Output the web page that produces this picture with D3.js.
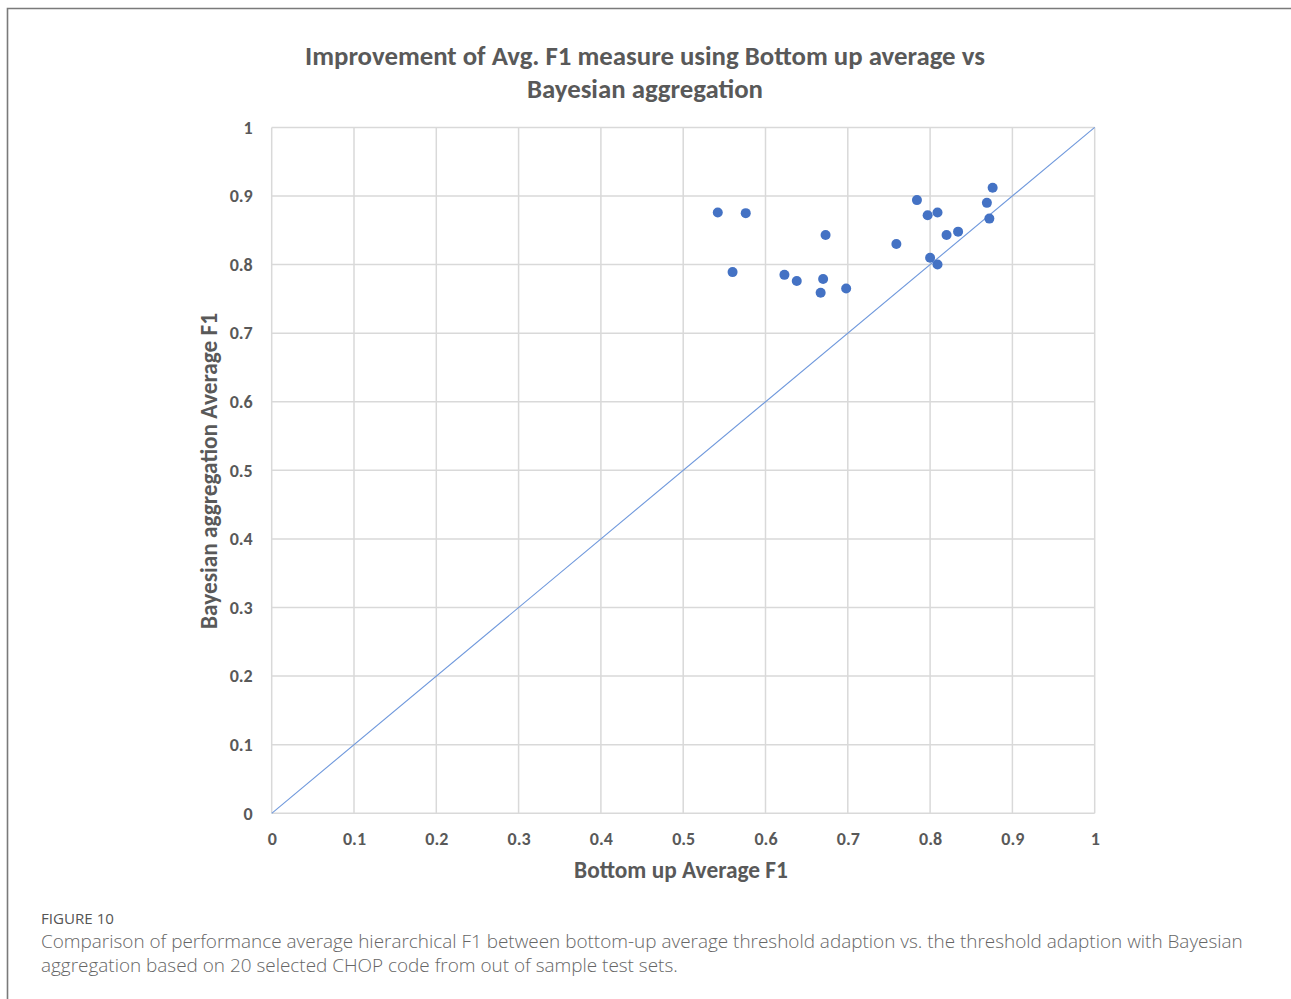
<!DOCTYPE html>
<html>
<head>
<meta charset="utf-8">
<script src="https://cdn.jsdelivr.net/npm/d3@7"></script>
<style>
  html, body { margin: 0; padding: 0; background: #fff; }
  svg { display: block; }
</style>
</head>
<body>
<svg id="chart" width="1291" height="999"></svg>
<script>
// ---- Data ----
const titleLines = ["Improvement of Avg. F1 measure using Bottom up average vs", "Bayesian aggregation"];
const xLabel = "Bottom up Average F1";
const yLabel = "Bayesian aggregation Average F1";
const tickValues = [0, 0.1, 0.2, 0.3, 0.4, 0.5, 0.6, 0.7, 0.8, 0.9, 1];
const tickLabels = ["0", "0.1", "0.2", "0.3", "0.4", "0.5", "0.6", "0.7", "0.8", "0.9", "1"];
const bottomUpF1 = [0.542, 0.576, 0.560, 0.673, 0.623, 0.638, 0.670, 0.667, 0.698, 0.759,
                    0.784, 0.797, 0.809, 0.820, 0.834, 0.800, 0.809, 0.869, 0.872, 0.876];
const bayesianF1 = [0.876, 0.875, 0.789, 0.843, 0.785, 0.776, 0.779, 0.759, 0.765, 0.830,
                    0.894, 0.872, 0.876, 0.843, 0.848, 0.810, 0.800, 0.890, 0.867, 0.912];
const diagonal = [[0, 0], [1, 1]];
const figureLabel = "FIGURE 10";
const captionLines = [
  "Comparison of performance average hierarchical F1 between bottom-up average threshold adaption vs. the threshold adaption with Bayesian",
  "aggregation based on 20 selected CHOP code from out of sample test sets."
];

// ---- Layout ----
const svg = d3.select("#chart");
const W = 1291, H = 999;
const plot = { left: 271.7, right: 1094.7, top: 127.4, bottom: 813.3 };
const chartFont = "Carlito, Calibri, Lato, 'Open Sans', sans-serif";
const textColor = "#595959";

// outer frame
svg.append("path")
  .attr("d", `M7.5,${H + 5} L7.5,8.5 L${W + 5},8.5`)
  .attr("fill", "none").attr("stroke", "#7a7a7a").attr("stroke-width", 1.6);

const x = d3.scaleLinear().domain([0, 1]).range([plot.left, plot.right]);
const y = d3.scaleLinear().domain([0, 1]).range([plot.bottom, plot.top]);

// grid lines
const grid = svg.append("g");
grid.selectAll("line.v").data(tickValues).join("line")
  .attr("x1", d => x(d)).attr("x2", d => x(d))
  .attr("y1", y(0)).attr("y2", y(1))
  .attr("stroke", "#d9d9d9").attr("stroke-width", 1.5);
grid.selectAll("line.h").data(tickValues).join("line")
  .attr("y1", d => y(d)).attr("y2", d => y(d))
  .attr("x1", x(0)).attr("x2", x(1))
  .attr("stroke", "#d9d9d9").attr("stroke-width", 1.5);

// axes (labels only)
const xAxis = d3.axisBottom(x).tickValues(tickValues).tickFormat((d, i) => tickLabels[i]).tickSize(0).tickPadding(19);
const yAxis = d3.axisLeft(y).tickValues(tickValues).tickFormat((d, i) => tickLabels[i]).tickSize(0).tickPadding(19);
const gx = svg.append("g").attr("transform", `translate(0,${plot.bottom})`).call(xAxis);
const gy = svg.append("g").attr("transform", `translate(${plot.left},0)`).call(yAxis);
[gx, gy].forEach(g => {
  g.select(".domain").remove();
  g.selectAll("text")
    .attr("font-family", chartFont).attr("font-size", 18).attr("font-weight", "bold")
    .attr("fill", textColor);
});
gy.selectAll("text").attr("dy", "0.32em");

// diagonal line
svg.append("path")
  .datum(diagonal)
  .attr("d", d3.line().x(d => x(d[0])).y(d => y(d[1])))
  .attr("fill", "none").attr("stroke", "#6f98dc").attr("stroke-width", 1.1);

// points
svg.append("g").selectAll("circle")
  .data(bottomUpF1.map((v, i) => [v, bayesianF1[i]]))
  .join("circle")
  .attr("cx", d => x(d[0])).attr("cy", d => y(d[1]))
  .attr("r", 5).attr("fill", "#4472c4");

// helper to fit text width
function fit(sel, target) {
  const w = sel.node().getComputedTextLength();
  const fs = parseFloat(sel.attr("font-size"));
  sel.attr("font-size", (fs * target / w).toFixed(2));
}

// title
const titleEls = titleLines.map((t, i) => svg.append("text")
    .attr("x", 645).attr("y", 65 + i * 33)
    .attr("text-anchor", "middle")
    .attr("font-family", chartFont).attr("font-weight", "bold").attr("font-size", 24)
    .attr("fill", textColor).text(t));
fit(titleEls[0], 680);
titleEls[1].attr("font-size", titleEls[0].attr("font-size"));

// axis titles
const xl = svg.append("text")
  .attr("x", 681).attr("y", 878).attr("text-anchor", "middle")
  .attr("font-family", chartFont).attr("font-weight", "bold").attr("font-size", 20)
  .attr("fill", textColor).text(xLabel);
fit(xl, 214);
const yl = svg.append("text")
  .attr("transform", "translate(217,471) rotate(-90)").attr("text-anchor", "middle")
  .attr("font-family", chartFont).attr("font-weight", "bold").attr("font-size", 20)
  .attr("fill", textColor).text(yLabel);
fit(yl, 316);

// caption
const fl = svg.append("text")
  .attr("x", 41).attr("y", 924)
  .attr("font-family", "'Open Sans', sans-serif").attr("font-size", 13)
  .attr("fill", "#555").text(figureLabel);
fit(fl, 73);
const capEls = captionLines.map((t, i) => svg.append("text")
    .attr("x", 41).attr("y", 948 + i * 24)
    .attr("font-family", "'Open Sans', sans-serif").attr("font-weight", 300).attr("font-size", 17)
    .attr("fill", "#666").text(t));
fit(capEls[0], 1202);
capEls[1].attr("font-size", capEls[0].attr("font-size"));
</script>
</body>
</html>
